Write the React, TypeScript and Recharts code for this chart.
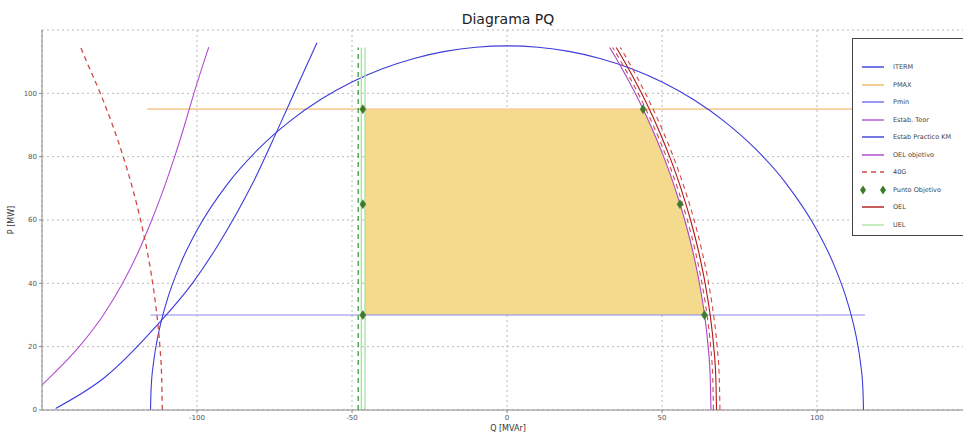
import React from "react";
import { ComposedChart, Line, Area, XAxis, YAxis, CartesianGrid } from "recharts";

const xTicks = [-100, -50, 0, 50, 100];
const yTicks = [0, 20, 40, 60, 80, 100];

const itermData = [
  { q: -115, p: 0 }, { q: -114.8, p: 6.78 }, { q: -114, p: 15.13 }, { q: -113, p: 21.35 },
  { q: -112, p: 26.1 }, { q: -110, p: 33.54 }, { q: -105, p: 46.9 }, { q: -100, p: 56.79 },
  { q: -90, p: 71.59 }, { q: -80, p: 82.61 }, { q: -70, p: 91.24 }, { q: -60, p: 98.11 },
  { q: -50, p: 103.56 }, { q: -40, p: 107.82 }, { q: -30, p: 111.02 }, { q: -20, p: 113.25 },
  { q: -10, p: 114.56 }, { q: 0, p: 115 }, { q: 10, p: 114.56 }, { q: 20, p: 113.25 },
  { q: 30, p: 111.02 }, { q: 40, p: 107.82 }, { q: 50, p: 103.56 }, { q: 60, p: 98.11 },
  { q: 70, p: 91.24 }, { q: 80, p: 82.61 }, { q: 90, p: 71.59 }, { q: 100, p: 56.79 },
  { q: 105, p: 46.9 }, { q: 110, p: 33.54 }, { q: 112, p: 26.1 }, { q: 113, p: 21.35 },
  { q: 114, p: 15.13 }, { q: 114.8, p: 6.78 }, { q: 115, p: 0 },
];

const pmaxData = [{ q: -116, p: 95 }, { q: 150, p: 95 }];
const pminData = [{ q: -115, p: 30 }, { q: 115.5, p: 30 }];

const estabTeorData = [
  { q: -151, p: 7 }, { q: -147.8, p: 10 }, { q: -138.0, p: 20 }, { q: -130.2, p: 30 },
  { q: -124.0, p: 40 }, { q: -118.9, p: 50 }, { q: -114.6, p: 60 }, { q: -110.7, p: 70 },
  { q: -107.2, p: 80 }, { q: -104.0, p: 90 }, { q: -101.0, p: 100 }, { q: -96.2, p: 114.6 },
];

const estabPracticoData = [
  { q: -145.6, p: 0.5 }, { q: -129.5, p: 10.5 }, { q: -112.3, p: 27.4 }, { q: -101.5, p: 40 },
  { q: -92.9, p: 52.6 }, { q: -82.1, p: 71.5 }, { q: -74.1, p: 88.3 }, { q: -67.5, p: 102.6 },
  { q: -61.3, p: 116 },
];

const oelObjetivoData = [
  { q: 65.8, p: 0 }, { q: 65.57, p: 10 }, { q: 64.88, p: 20 }, { q: 63.72, p: 30 },
  { q: 62.08, p: 40 }, { q: 59.96, p: 50 }, { q: 57.34, p: 60 }, { q: 54.2, p: 70 },
  { q: 50.52, p: 80 }, { q: 46.26, p: 90 }, { q: 41.38, p: 100 }, { q: 35.85, p: 110 },
  { q: 33.13, p: 114.5 },
];

const g40LeftData = [
  { q: -111.2, p: 0 }, { q: -111.39, p: 10 }, { q: -111.97, p: 20 }, { q: -112.94, p: 30 },
  { q: -114.29, p: 40 }, { q: -116.05, p: 50 }, { q: -118.21, p: 60 }, { q: -120.79, p: 70 },
  { q: -123.8, p: 80 }, { q: -127.26, p: 90 }, { q: -131.18, p: 100 }, { q: -135.6, p: 110 },
  { q: -137.5, p: 114.5 },
];

const g40RightAData = [
  { q: 66.6, p: 0 }, { q: 66.37, p: 10 }, { q: 65.68, p: 20 }, { q: 64.52, p: 30 },
  { q: 62.89, p: 40 }, { q: 60.78, p: 50 }, { q: 58.17, p: 60 }, { q: 55.04, p: 70 },
  { q: 51.37, p: 80 }, { q: 47.13, p: 90 }, { q: 42.29, p: 100 }, { q: 36.78, p: 110 },
  { q: 34.07, p: 114.5 },
];

const oelData = [
  { q: 67.6, p: 0 }, { q: 67.37, p: 10 }, { q: 66.68, p: 20 }, { q: 65.53, p: 30 },
  { q: 63.91, p: 40 }, { q: 61.81, p: 50 }, { q: 59.21, p: 60 }, { q: 56.1, p: 70 },
  { q: 52.45, p: 80 }, { q: 48.23, p: 90 }, { q: 43.41, p: 100 }, { q: 37.94, p: 110 },
  { q: 35.25, p: 114.5 },
];

const g40RightBData = [
  { q: 68.7, p: 0 }, { q: 68.47, p: 10 }, { q: 67.79, p: 20 }, { q: 66.64, p: 30 },
  { q: 65.03, p: 40 }, { q: 62.94, p: 50 }, { q: 60.36, p: 60 }, { q: 57.26, p: 70 },
  { q: 53.63, p: 80 }, { q: 49.44, p: 90 }, { q: 44.65, p: 100 }, { q: 39.21, p: 110 },
  { q: 36.54, p: 114.5 },
];

const uelAData = [{ q: -47, p: 0 }, { q: -47, p: 114.5 }];
const uelBData = [{ q: -45.8, p: 0 }, { q: -45.8, p: 114.5 }];
const uelDashData = [{ q: -48, p: 0 }, { q: -48, p: 114.5 }];

const puntoObjetivoData = [
  { q: -46.5, p: 95 }, { q: -46.5, p: 65 }, { q: -46.5, p: 30 },
  { q: 43.9, p: 95 }, { q: 55.8, p: 65 }, { q: 63.7, p: 30 },
];

const zonaData = [
  { q: -45.8, r: [30, 95] }, { q: 43.9, r: [30, 95] }, { q: 46.26, r: [30, 90] },
  { q: 50.52, r: [30, 80] }, { q: 54.2, r: [30, 70] }, { q: 57.34, r: [30, 60] },
  { q: 59.96, r: [30, 50] }, { q: 62.08, r: [30, 40] }, { q: 63.72, r: [30, 30] },
];

const C = {
  iterm: "#3c3cdc",
  pmax: "#f6cf9c",
  pmin: "#8a8af0",
  teor: "#b24ed2",
  practico: "#3c3cdc",
  oelObj: "#a846c8",
  g40: "#d24848",
  punto: "#3d7a2c",
  oel: "#b01818",
  uel: "#ace3a4",
  uelDash: "#3c9c3c",
};

const Diamond = (props: any) => {
  const { cx, cy } = props;
  if (cx == null || cy == null) return <g />;
  return (
    <polygon
      points={`${cx},${cy - 4.5} ${cx + 3},${cy} ${cx},${cy + 4.5} ${cx - 3},${cy}`}
      fill={C.punto}
      stroke={C.punto}
      strokeWidth={0.5}
    />
  );
};

const legendItems = [
  { label: "ITERM", color: C.iterm, kind: "line" },
  { label: "PMAX", color: "#f0b860", kind: "line" },
  { label: "Pmin", color: "#6a6af0", kind: "line" },
  { label: "Estab. Teor", color: C.teor, kind: "line" },
  { label: "Estab Practico KM", color: C.practico, kind: "line" },
  { label: "OEL objetivo", color: C.oelObj, kind: "line" },
  { label: "40G", color: C.g40, kind: "dash" },
  { label: "Punto Objetivo", color: C.punto, kind: "marker" },
  { label: "OEL", color: C.oel, kind: "line" },
  { label: "UEL", color: C.uel, kind: "line" },
];

const tickStyle = { fontSize: 7, fill: "#555", fontFamily: "DejaVu Sans" };

export default function App() {
  return (
    <div
      style={{
        position: "absolute",
        left: 0,
        top: 0,
        width: 963,
        height: 436,
        overflow: "hidden",
        background: "#fff",
        fontFamily: "DejaVu Sans",
      }}
    >
      <ComposedChart
        width={1000}
        height={436}
        margin={{ top: 30, right: 28, bottom: 0, left: 0 }}
      >
        <CartesianGrid stroke="#b8b8b8" strokeDasharray="2 3" />
        <XAxis
          dataKey="q"
          type="number"
          domain={[-150, 150]}
          ticks={xTicks}
          allowDataOverflow
          height={26}
          tick={tickStyle}
          tickSize={3}
          stroke="#888"
        />
        <XAxis
          xAxisId="top"
          orientation="top"
          dataKey="q"
          type="number"
          domain={[-150, 150]}
          height={0}
          tick={false}
          tickLine={false}
          stroke="#999"
        />
        <YAxis
          type="number"
          domain={[0, 120]}
          ticks={yTicks}
          allowDataOverflow
          width={42}
          tick={tickStyle}
          tickSize={3}
          stroke="#888"
        />
        <Area
          data={zonaData}
          dataKey="r"
          type="linear"
          stroke="none"
          fill="#f4da8c"
          fillOpacity={1}
          isAnimationActive={false}
        />
        <Line data={pmaxData} dataKey="p" stroke={C.pmax} strokeWidth={1.6} dot={false} isAnimationActive={false} />
        <Line data={pminData} dataKey="p" stroke={C.pmin} strokeWidth={1.2} dot={false} isAnimationActive={false} />
        <Line data={itermData} dataKey="p" type="monotone" stroke={C.iterm} strokeWidth={1.1} dot={false} isAnimationActive={false} />
        <Line data={estabTeorData} dataKey="p" type="monotone" stroke={C.teor} strokeWidth={1.1} dot={false} isAnimationActive={false} />
        <Line data={estabPracticoData} dataKey="p" type="monotone" stroke={C.practico} strokeWidth={1.1} dot={false} isAnimationActive={false} />
        <Line data={g40LeftData} dataKey="p" type="monotone" stroke={C.g40} strokeWidth={1.3} strokeDasharray="5 4" dot={false} isAnimationActive={false} />
        <Line data={uelDashData} dataKey="p" stroke={C.uelDash} strokeWidth={1.3} strokeDasharray="5 4" dot={false} isAnimationActive={false} />
        <Line data={uelAData} dataKey="p" stroke={C.uel} strokeWidth={1.4} dot={false} isAnimationActive={false} />
        <Line data={uelBData} dataKey="p" stroke={C.uel} strokeWidth={1.4} dot={false} isAnimationActive={false} />
        <Line data={oelObjetivoData} dataKey="p" type="monotone" stroke={C.oelObj} strokeWidth={1.1} dot={false} isAnimationActive={false} />
        <Line data={g40RightAData} dataKey="p" type="monotone" stroke={C.g40} strokeWidth={1.1} strokeDasharray="5 4" dot={false} isAnimationActive={false} />
        <Line data={oelData} dataKey="p" type="monotone" stroke={C.oel} strokeWidth={1.1} dot={false} isAnimationActive={false} />
        <Line data={g40RightBData} dataKey="p" type="monotone" stroke={C.g40} strokeWidth={1.1} strokeDasharray="5 4" dot={false} isAnimationActive={false} />
        <Line
          data={puntoObjetivoData}
          dataKey="p"
          stroke="none"
          strokeWidth={0}
          dot={<Diamond />}
          activeDot={false}
          isAnimationActive={false}
        />
      </ComposedChart>

      <div
        style={{
          position: "absolute",
          left: 408,
          width: 200,
          top: 11,
          textAlign: "center",
          fontSize: 14,
          color: "#222",
          lineHeight: "16px",
        }}
      >
        Diagrama PQ
      </div>
      <div
        style={{
          position: "absolute",
          left: 458,
          width: 100,
          top: 424,
          textAlign: "center",
          fontSize: 8,
          color: "#333",
          lineHeight: "10px",
        }}
      >
        Q [MVAr]
      </div>
      <div
        style={{
          position: "absolute",
          left: -38,
          width: 100,
          top: 215,
          textAlign: "center",
          fontSize: 8,
          color: "#333",
          lineHeight: "10px",
          transform: "rotate(-90deg)",
        }}
      >
        P [MW]
      </div>

      <div
        style={{
          position: "absolute",
          left: 852,
          top: 38,
          width: 125,
          height: 196,
          border: "1px solid #444",
          background: "#fff",
        }}
      >
        {legendItems.map((it, i) => (
          <div
            key={it.label}
            style={{
              position: "absolute",
              left: 0,
              top: 23 + i * 17.5,
              height: 10,
              width: 125,
            }}
          >
            <svg width={32} height={10} style={{ position: "absolute", left: 7, top: 0 }}>
              {it.kind === "line" && (
                <line x1={2} y1={5} x2={24} y2={5} stroke={it.color} strokeWidth={1.4} />
              )}
              {it.kind === "dash" && (
                <line x1={2} y1={5} x2={24} y2={5} stroke={it.color} strokeWidth={1.4} strokeDasharray="5 4" />
              )}
              {it.kind === "marker" && (
                <g>
                  <polygon points="3,0.5 6,5 3,9.5 0,5" fill={it.color} />
                  <polygon points="23,0.5 26,5 23,9.5 20,5" fill={it.color} />
                </g>
              )}
            </svg>
            <div
              style={{
                position: "absolute",
                left: 40,
                top: 0,
                fontSize: 6.5,
                lineHeight: "10px",
                color: "#444",
                whiteSpace: "nowrap",
              }}
            >
              {it.label}
            </div>
          </div>
        ))}
      </div>
    </div>
  );
}
